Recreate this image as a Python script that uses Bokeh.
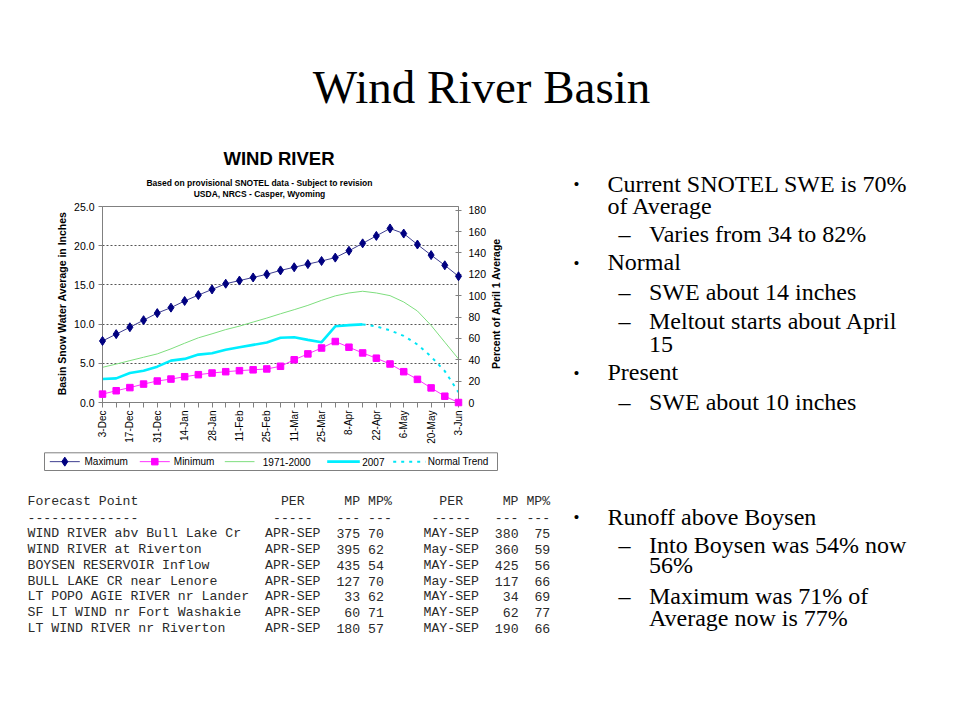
import math
from bokeh.plotting import figure
from bokeh.models import Range1d, LinearAxis, FixedTicker, NumeralTickFormatter
from bokeh.core.properties import value
from bokeh.embed import file_html
from bokeh.resources import INLINE

# ---------------- data ----------------
dates = ["3-Dec", "10-Dec", "17-Dec", "24-Dec", "31-Dec", "7-Jan", "14-Jan", "21-Jan",
         "28-Jan", "4-Feb", "11-Feb", "18-Feb", "25-Feb", "4-Mar", "11-Mar", "18-Mar",
         "25-Mar", "1-Apr", "8-Apr", "15-Apr", "22-Apr", "29-Apr", "6-May", "13-May",
         "20-May", "27-May", "3-Jun"]
maximum = [7.85, 8.72, 9.6, 10.5, 11.4, 12.1, 12.95, 13.7, 14.42, 15.15, 15.55, 15.95,
           16.35, 16.85, 17.25, 17.65, 18.05, 18.48, 19.35, 20.3, 21.25, 22.2, 21.55,
           20.15, 18.8, 17.5, 16.1]
minimum = [1.07, 1.5, 1.9, 2.35, 2.74, 2.99, 3.29, 3.55, 3.76, 3.93, 4.06, 4.17, 4.28,
           4.62, 5.45, 6.2, 6.95, 7.78, 7.05, 6.32, 5.65, 4.91, 3.93, 2.95, 1.86, 0.8, 0.0]
normal_7100 = [4.49, 4.9, 5.34, 5.77, 6.2, 6.84, 7.56, 8.25, 8.76, 9.3, 9.74, 10.26,
               10.77, 11.32, 11.84, 12.39, 13.03, 13.6, 13.97, 14.19, 13.97, 13.63,
               12.82, 11.67, 9.83, 7.69, 5.56]
swe_2007 = [2.99, 3.08, 3.76, 4.06, 4.57, 5.34, 5.56, 6.11, 6.28, 6.72, 7.05, 7.35,
            7.65, 8.25, 8.33, 7.99, 7.69, 9.72, 9.87, 9.96]
trend_start = "15-Apr"
normal_trend = [9.96, 9.7, 9.2, 8.5, 7.4, 5.85, 4.0, 1.3]

inch_ticks = [0, 5, 10, 15, 20, 25]
grid_ticks = [5, 10, 15, 20]
pct_ticks = [0, 20, 40, 60, 80, 100, 120, 140, 160, 180]
pct_top = 183.5

series_names = ["Maximum", "Minimum", "1971-2000", "2007", "Normal Trend"]

chart_title = "WIND RIVER"
chart_sub1 = "Based on provisional SNOTEL data - Subject to revision"
chart_sub2 = "USDA, NRCS - Casper, Wyoming"
left_label = "Basin Snow Water Average in Inches"
right_label = "Percent of April 1 Average"

# forecast table
fc_points = ["WIND RIVER abv Bull Lake Cr", "WIND RIVER at Riverton", "BOYSEN RESERVOIR Inflow",
             "BULL LAKE CR near Lenore", "LT POPO AGIE RIVER nr Lander",
             "SF LT WIND nr Fort Washakie", "LT WIND RIVER nr Riverton"]
fc_per1 = ["APR-SEP"] * 7
fc_mp1 = [375, 395, 435, 127, 33, 60, 180]
fc_pct1 = [70, 62, 54, 70, 62, 71, 57]
fc_per2 = ["MAY-SEP", "May-SEP", "MAY-SEP", "May-SEP", "MAY-SEP", "MAY-SEP", "MAY-SEP"]
fc_mp2 = [380, 360, 425, 117, 34, 62, 190]
fc_pct2 = [75, 59, 56, 66, 69, 77, 66]

slide_title = "Wind River Basin"
bullets = [
    (1, ["Current SNOTEL SWE is 70%", "of Average"]),
    (2, ["Varies from 34 to 82%"]),
    (1, ["Normal"]),
    (2, ["SWE about 14 inches"]),
    (2, ["Meltout starts about April", "15"]),
    (1, ["Present"]),
    (2, ["SWE about 10 inches"]),
    (1, ["Runoff above Boysen"]),
    (2, ["Into Boysen was 54% now", "56%"]),
    (2, ["Maximum was 71% of", "Average now is 77%"]),
]
bullet_baselines = [[191.7, 213.3], [241.7], [270], [299.3], [328.3, 351.7], [380],
                    [409.3], [524.5], [552.5, 572.5], [603.3, 626]]

# ---------------- geometry (page pixels) ----------------
PW, PH = 944, 704
FX0, FX1, FY0, FY1 = 102, 458, 206, 402   # chart plot area
SANS = "Liberation Sans"
SERIF = "Liberation Serif"
MONO = "Liberation Mono"
MID = {SANS: 0.3465, SERIF: 0.3375, MONO: 0.2665}   # baseline -> em-middle offset

C_MAX_L, C_MAX = "#3e3e90", "#000080"
C_MIN_L, C_MIN = "#ff33ff", "#ff00ff"
C_NRM = "#7ede7e"
C_07 = "#00eeff"
C_TR = "#00e5f5"
MAX_SIZE, MIN_SIZE = 9, 6.5

xs = list(range(len(dates)))
p = figure(width=PW, height=PH, output_backend="svg", toolbar_location=None, title=None,
           x_range=Range1d(0, len(dates) - 1), y_range=Range1d(0, 25),
           min_border_left=FX0, min_border_right=PW - FX1,
           min_border_top=FY0, min_border_bottom=PH - FY1)
p.background_fill_color = "white"
p.border_fill_color = "white"
p.outline_line_color = "#808080"
p.extra_y_ranges = {"pct": Range1d(0, pct_top), "py": Range1d(FY1, FY0)}
p.extra_x_ranges = {"px": Range1d(FX0, FX1)}

ya = p.yaxis[0]
ya.ticker = FixedTicker(ticks=inch_ticks)
ya.formatter = NumeralTickFormatter(format="0.0")
ya.axis_line_color = "#808080"
ya.major_tick_line_color = "#808080"
ya.major_tick_in = 0
ya.major_tick_out = 4
ya.major_label_standoff = 4
ya.major_label_text_font = SANS
ya.major_label_text_font_size = "10.5px"
ya.major_label_text_color = "black"

ra = LinearAxis(y_range_name="pct", ticker=FixedTicker(ticks=pct_ticks))
ra.axis_line_color = "#808080"
ra.major_tick_line_color = "#808080"
ra.major_tick_in = 3
ra.major_tick_out = 3
ra.major_label_standoff = 7
ra.major_label_text_font = SANS
ra.major_label_text_font_size = "10.5px"
ra.major_label_text_color = "black"
p.add_layout(ra, "right")

even = [i for i in xs if i % 2 == 0]
odd = [i for i in xs if i % 2 == 1]
xa = p.xaxis[0]
xa.ticker = FixedTicker(ticks=even, minor_ticks=odd)
xa.major_label_overrides = {i: dates[i] for i in even}
xa.major_label_orientation = math.pi / 2
xa.axis_line_color = "#808080"
xa.major_tick_line_color = "#808080"
xa.minor_tick_line_color = "#808080"
xa.major_tick_in = 0
xa.major_tick_out = 5
xa.minor_tick_in = 0
xa.minor_tick_out = 5
xa.major_label_standoff = 3
xa.major_label_text_font = SANS
xa.major_label_text_font_size = "10px"
xa.major_label_text_color = "black"

p.xgrid.visible = False
p.ygrid.ticker = FixedTicker(ticks=grid_ticks)
p.ygrid.grid_line_color = "#555555"
p.ygrid.grid_line_dash = "2 2"
p.ygrid.grid_line_width = 1

p.line(xs, maximum, line_color=C_MAX_L, line_width=1)
p.line(xs, minimum, line_color=C_MIN_L, line_width=1)
p.line(xs, normal_7100, line_color=C_NRM, line_width=1)
p.line(xs[:len(swe_2007)], swe_2007, line_color=C_07, line_width=2.6)
t0 = dates.index(trend_start)
p.line(xs[t0:t0 + len(normal_trend)], normal_trend, line_color=C_TR,
       line_width=2, line_dash="3 5")
# markers on top (not cut at the plot-area edge)
p.scatter(xs, maximum, marker="diamond", size=MAX_SIZE, fill_color=C_MAX, line_color=C_MAX,
          level="overlay")
p.scatter(xs, minimum, marker="square", size=MIN_SIZE, fill_color=C_MIN, line_color=C_MIN,
          level="overlay")

OV = dict(x_range_name="px", y_range_name="py", level="overlay")


def texts(tx, baselines, labels, size, font=SANS, style="normal", align="left",
          angle=0.0, color="black", centered=False):
    ty = [b if centered else b - MID[font] * size for b in baselines]
    p.text(x=tx, y=ty, text=labels, text_font=value(font), text_font_size=f"{size}px",
           text_font_style=style, text_align=align, text_baseline="middle", angle=angle,
           text_color=color, **OV)


# ---- legend (drawn below the chart) ----
LEG_L, LEG_R, LEG_T, LEG_B = 44, 497, 452.3, 470
leg_y = (LEG_T + LEG_B) / 2
leg_key_x = [(49.3, 79.3), (139.3, 169.3), (224.3, 254), (326.7, 359.3), (392.7, 425)]
leg_txt_x = [84, 173.3, 262.3, 361.7, 427.3]
p.quad(left=[LEG_L], right=[LEG_R], top=[LEG_T], bottom=[LEG_B], fill_color="white",
       line_color="#808080", line_width=1, **OV)
key_styles = [dict(line_color=C_MAX_L, line_width=1), dict(line_color=C_MIN_L, line_width=1),
              dict(line_color=C_NRM, line_width=1), dict(line_color=C_07, line_width=2.6),
              dict(line_color=C_TR, line_width=2, line_dash="3 5")]
for (ka, kb), st in zip(leg_key_x, key_styles):
    p.line([ka, kb], [leg_y, leg_y], **st, **OV)
# legend marker symbols (diamond, square)
dcx = sum(leg_key_x[0]) / 2
dh, dw = MAX_SIZE / 2, MAX_SIZE / 3
p.patch([dcx, dcx + dw, dcx, dcx - dw], [leg_y - dh, leg_y, leg_y + dh, leg_y],
        fill_color=C_MAX, line_color=C_MAX, **OV)
scx = sum(leg_key_x[1]) / 2
sh = MIN_SIZE / 2
p.patch([scx - sh, scx + sh, scx + sh, scx - sh], [leg_y - sh, leg_y - sh, leg_y + sh, leg_y + sh],
        fill_color=C_MIN, line_color=C_MIN, **OV)
texts(leg_txt_x, [leg_y] * 5, series_names, 10, centered=True)

# slide title
texts([481], [102], [slide_title], 47, font=SERIF, align="center")

# chart headings
texts([278.5], [164], [chart_title], 18.5, style="bold", align="center")
texts([259, 259], [185.8, 196.3], [chart_sub1, chart_sub2], 8.5, style="bold", align="center")
texts([61.7, 495], [303, 303], [left_label, right_label], 10.5, style="bold",
      align="center", angle=math.pi / 2, centered=True)

# bullets
b_x, b_y, b_t = [], [], []
d_x, d_y = [], []
l_x, l_y, l_t = [], [], []
for (level, lines), bls in zip(bullets, bullet_baselines):
    if level == 1:
        b_x.append(576)
        b_y.append(bls[0] - 7.5)
        b_t.append("\u2022")
        tx = 607
    else:
        d_x.append(618)
        d_y.append(bls[0])
        tx = 648.5
    for ln, b in zip(lines, bls):
        l_x.append(tx)
        l_y.append(b)
        l_t.append(ln)
texts(b_x, b_y, b_t, 17, font=SERIF, align="center", centered=True)
texts(d_x, d_y, ["\u2013"] * len(d_x), 24, font=SERIF)
texts(l_x, l_y, l_t, 24, font=SERIF)

# forecast table (fixed-width columns)
fs = 13.2
cw = fs * 0.6
x0 = 27
row0 = 505.0
dy = 15.83
tc = "#2a2a2a"
cells_l = ([], [], [])
cells_r = ([], [], [])


def cell(text, col, r, right=False):
    tgt = cells_r if right else cells_l
    tgt[0].append(x0 + (col + 1) * cw if right else x0 + col * cw)
    tgt[1].append(row0 + r * dy)
    tgt[2].append(text)


header = [("Forecast Point", 0), ("PER", 32), ("MP", 40), ("MP%", 43),
          ("PER", 52), ("MP", 60), ("MP%", 63)]
for t, c in header:
    cell(t, c, 0)
dashes = [("--------------", 0), ("-----", 31), ("---", 39), ("---", 43),
          ("-----", 51), ("---", 59), ("---", 63)]
for t, c in dashes:
    cell(t, c, 1)
for i in range(len(fc_points)):
    r = i + 2
    cell(fc_points[i], 0, r)
    cell(fc_per1[i], 30, r)
    cell(str(fc_mp1[i]), 41, r, right=True)
    cell(str(fc_pct1[i]), 43, r)
    cell(fc_per2[i], 50, r)
    cell(str(fc_mp2[i]), 61, r, right=True)
    cell(str(fc_pct2[i]), 65, r, right=True)
texts(cells_l[0], cells_l[1], cells_l[2], fs, font=MONO, color=tc)
texts(cells_r[0], cells_r[1], cells_r[2], fs, font=MONO, color=tc, align="right")

open("out.html", "w").write(file_html(p, INLINE))
